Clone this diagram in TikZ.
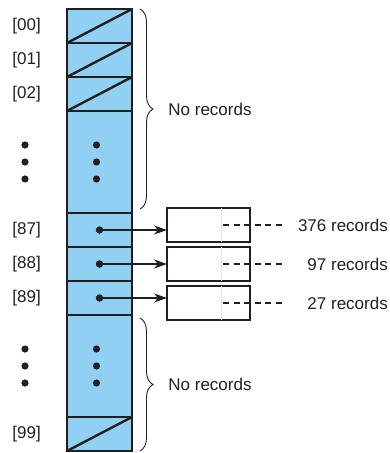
\documentclass[tikz,border=0pt]{standalone}
\usepackage{fontspec}
\setmainfont{Liberation Sans}
\usetikzlibrary{arrows.meta, positioning, decorations.pathreplacing}
\definecolor{slotblue}{RGB}{143,208,243}
\definecolor{inkline}{RGB}{35,31,32}

\begin{document}
\begin{tikzpicture}[
    x=1pt, y=-1pt,
    node distance=0pt,
    slot/.style={rectangle, draw=inkline, line width=2.6pt, fill=slotblue, minimum width=65pt, minimum height=34pt, inner sep=0pt, outer sep=0pt},
    emptyrun/.style={slot, minimum height=102pt},
    bucket/.style={rectangle, draw=inkline, line width=2.8pt, fill=white, minimum width=83pt, minimum height=34pt, inner sep=0pt, outer sep=0pt},
    idx/.style={font=\fontsize{17}{20}\selectfont, text=inkline, inner sep=0pt},
    note/.style={font=\fontsize{17}{20}\selectfont, text=inkline, inner sep=0pt},
    brace/.style={decorate, decoration={brace, amplitude=13pt}, draw=inkline, line width=0.9pt},
    arrow/.style={draw=inkline, line width=1.2pt, -{Stealth[length=13pt, width=9pt, inset=4pt]}},
    dashline/.style={draw=inkline, line width=2.2pt, dash pattern=on 6pt off 4.6pt},
    ptr/.style={circle, fill=inkline, inner sep=0pt, minimum size=7.5pt}]
\useasboundingbox (0,0) rectangle (390,453);
% hash table column
\node (s00) [slot] at (99.5,26) {};
\node (s01) [slot, below=of s00] {};
\node (s02) [slot, below=of s01] {};
\node (runA) [emptyrun, below=of s02] {};
\node (s87) [slot, below=of runA] {};
\node (s88) [slot, below=of s87] {};
\node (s89) [slot, below=of s88] {};
\node (runB) [emptyrun, below=of s89] {};
\node (s99) [slot, below=of runB] {};
\foreach \s in {s00,s01,s02,s99}
    \draw [inkline, line width=2.4pt] (\s.south west) -- (\s.north east);
% elided slots
\foreach \r in {runA,runB}
    \foreach \d in {-17,0,17} {
        \fill [inkline] ([xshift=-3pt, yshift=\d pt]\r.center) circle (3.6pt);
        \fill [inkline] ([xshift=-74.5pt, yshift=\d pt]\r.center) circle (3.6pt);
    }
% index labels
\node [idx, left=26pt of s00] {[00]};
\node [idx, left=26pt of s01] {[01]};
\node [idx, left=26pt of s02] {[02]};
\node [idx, left=26pt of s87] {[87]};
\node [idx, left=26pt of s88] {[88]};
\node [idx, left=26pt of s89] {[89]};
\node [idx, left=26pt of s99] {[99]};
% record lists
\node (b87) [bucket] at (208.5,225) {};
\node (b88) [bucket, below=5pt of b87] {};
\node (b89) [bucket, below=5pt of b88] {};
\node (p87) [ptr] at (s87.center) {};
\node (p88) [ptr] at (s88.center) {};
\node (p89) [ptr] at (s89.center) {};
\foreach \k/\n in {87/376, 88/97, 89/27} {
    \draw [black!10, line width=0.5pt] ([xshift=12.5pt]b\k.north) -- ([xshift=12.5pt]b\k.south);
    \draw [arrow] (p\k.center) -- (p\k -| b\k.west);
    \draw [dashline] ([xshift=14.5pt]b\k.center) -- ([xshift=73.5pt]b\k.center);
    \node [note, anchor=east] at ([xshift=179.5pt]b\k.center) {\n\ records};
}
% empty ranges
\draw [brace] ([xshift=8pt]s00.north east) -- node[note, midway, right=28pt] {No records} ([xshift=8pt, yshift=4pt]runA.south east);
\draw [brace] ([xshift=8pt, yshift=-3pt]runB.north east) -- node[note, midway, right=28pt] {No records} ([xshift=8pt]s99.south east);
\end{tikzpicture}
\end{document}
